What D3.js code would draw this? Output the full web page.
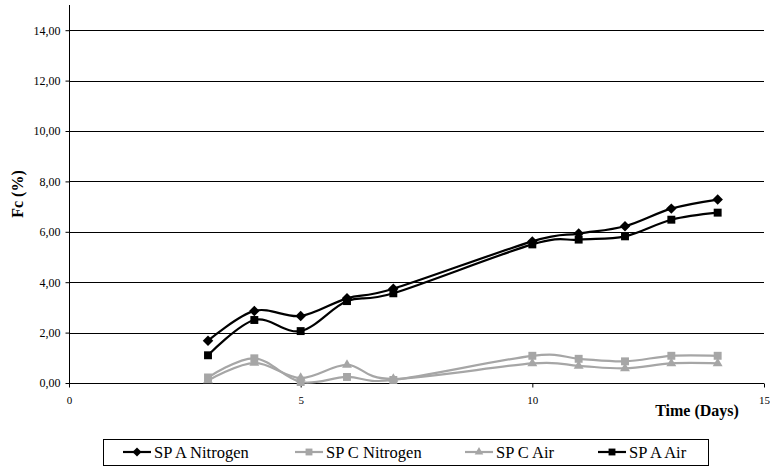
<!DOCTYPE html>
<html>
<head>
<meta charset="utf-8">
<script src="https://cdn.jsdelivr.net/npm/d3@7"></script>
<style>
  html, body { margin: 0; padding: 0; background: #fff; }
  svg { display: block; }
  svg text { font-family: "Times New Roman", "Liberation Serif", "DejaVu Serif", serif; }
</style>
</head>
<body>
<svg id="chart" width="770" height="468"></svg>
<script>
// Sampling days
const days = [3, 4, 5, 6, 7, 10, 11, 12, 13, 14];

// Fc (%) per series
const spANitrogen = [1.68, 2.86, 2.66, 3.36, 3.74, 5.62, 5.93, 6.22, 6.92, 7.28];
const spCNitrogen = [0.22, 0.98, 0.04, 0.24, 0.12, 1.08, 0.96, 0.86, 1.08, 1.08];
const spCAir      = [0.10, 0.80, 0.20, 0.72, 0.16, 0.78, 0.68, 0.58, 0.78, 0.78];
const spAAir      = [1.10, 2.50, 2.06, 3.25, 3.56, 5.50, 5.69, 5.82, 6.48, 6.76];

const seriesNames = ["SP A Nitrogen", "SP C Nitrogen", "SP C Air", "SP A Air"];
const seriesValues = [spANitrogen, spCNitrogen, spCAir, spAAir];

const xTicks = [0, 5, 10, 15];
const yTicks = [0, 2, 4, 6, 8, 10, 12, 14];

const styles = [
  { color: "#000000", symbol: d3.symbolDiamond2, size: 70 },
  { color: "#a6a6a6", symbol: d3.symbolSquare2, size: 80 },
  { color: "#a6a6a6", symbol: d3.symbolTriangle2, size: 70 },
  { color: "#000000", symbol: d3.symbolSquare2, size: 80 }
];

const svg = d3.select("#chart");
const plotLeft = 69, plotRight = 764, plotTop = 5, plotBottom = 383;

const x = d3.scaleLinear().domain([0, 15]).range([plotLeft, plotRight]);
const y = d3.scaleLinear().domain([0, 15]).range([plotBottom, plotTop]);

const fmt = v => d3.format(".2f")(v).replace(".", ",");

// horizontal gridlines
svg.append("g")
  .selectAll("line")
  .data(yTicks.filter(v => v > 0))
  .join("line")
  .attr("x1", plotLeft).attr("x2", plotRight)
  .attr("y1", d => Math.round(y(d)) + 0.5).attr("y2", d => Math.round(y(d)) + 0.5)
  .attr("stroke", "#000").attr("stroke-width", 1);

// y axis
const yAxis = svg.append("g")
  .attr("transform", `translate(${plotLeft + 0.5},0)`)
  .call(d3.axisLeft(y).tickValues(yTicks).tickFormat(fmt).tickSize(4).tickPadding(5));
yAxis.attr("font-family", null);
yAxis.select(".domain").attr("stroke", "#000").attr("d", `M0,${plotTop}V${plotBottom}`);
yAxis.selectAll("text").attr("font-size", 12).attr("fill", "#000");

// x axis
const xAxis = svg.append("g")
  .attr("transform", `translate(0,${plotBottom + 0.5})`)
  .call(d3.axisBottom(x).tickValues(xTicks).tickFormat(d3.format("d")).tickSize(4).tickPadding(9));
xAxis.attr("font-family", null);
xAxis.select(".domain").attr("stroke", "#000").attr("d", `M${plotLeft},0H${plotRight}`);
xAxis.selectAll("text").attr("font-size", 11).attr("fill", "#000");

// axis titles
svg.append("text")
  .attr("transform", "translate(23,194) rotate(-90)")
  .attr("text-anchor", "middle")
  .attr("font-weight", "bold").attr("font-size", 16)
  .text("Fc (%)");

svg.append("text")
  .attr("x", 697).attr("y", 416)
  .attr("text-anchor", "middle")
  .attr("font-weight", "bold").attr("font-size", 16)
  .text("Time (Days)");

// smoothed series lines and markers
const line = d3.line()
  .x((d, i) => x(days[i]))
  .y(d => y(d))
  .curve(d3.curveCatmullRom.alpha(0));

seriesValues.forEach((vals, s) => {
  const st = styles[s];
  const g = svg.append("g");
  g.append("path")
    .datum(vals)
    .attr("d", line)
    .attr("fill", "none")
    .attr("stroke", st.color)
    .attr("stroke-width", 2.2);
  g.selectAll("path.m")
    .data(vals)
    .join("path")
    .attr("class", "m")
    .attr("transform", (d, i) => `translate(${x(days[i])},${y(d)})`)
    .attr("d", d3.symbol().type(st.symbol).size(st.size))
    .attr("fill", st.color);
});

// legend
const legend = svg.append("g");
legend.append("rect")
  .attr("x", 103.5).attr("y", 439.5)
  .attr("width", 605).attr("height", 26)
  .attr("fill", "#fff").attr("stroke", "#000");

const legendX = [123, 295, 465, 598];
seriesNames.forEach((name, s) => {
  const st = styles[s];
  const g = legend.append("g").attr("transform", `translate(${legendX[s]},452)`);
  g.append("line").attr("x1", 0).attr("x2", 28).attr("y1", 0).attr("y2", 0)
    .attr("stroke", st.color).attr("stroke-width", 2.2);
  g.append("path")
    .attr("transform", "translate(14,0)")
    .attr("d", d3.symbol().type(st.symbol).size(st.size * 0.75))
    .attr("fill", st.color);
  g.append("text")
    .attr("x", 31).attr("y", 5.5)
    .attr("font-size", 16.5)
    .text(name);
});
</script>
</body>
</html>
